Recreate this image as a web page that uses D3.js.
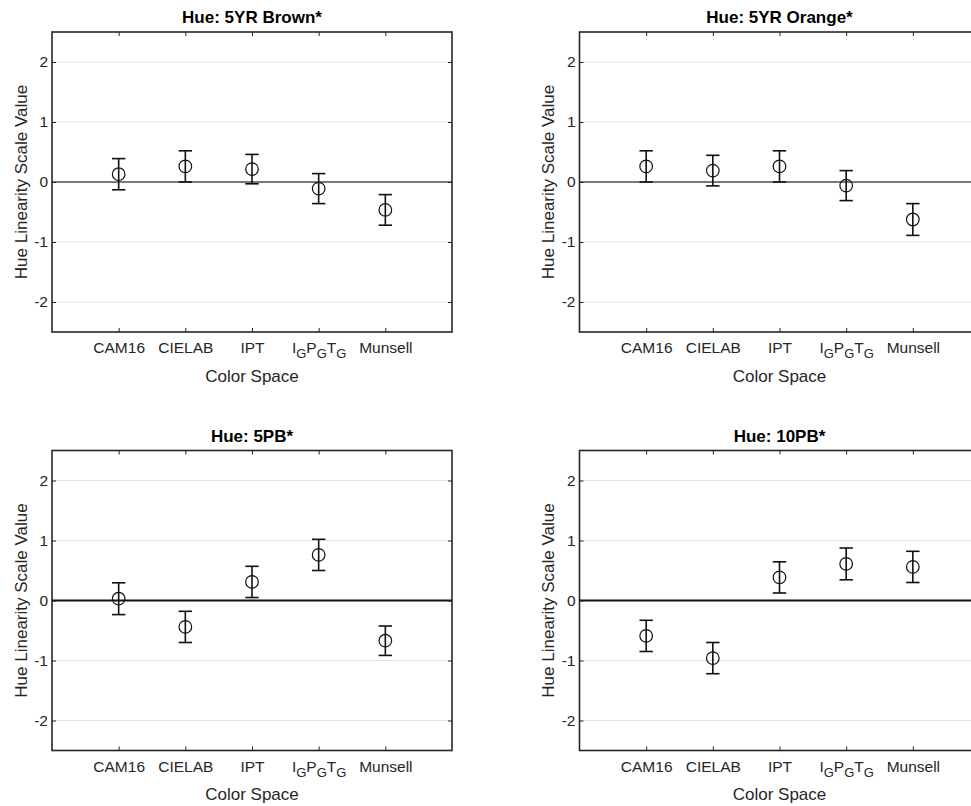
<!DOCTYPE html>
<html>
<head>
<meta charset="utf-8">
<script src="https://cdn.jsdelivr.net/npm/d3@7"></script>
<style>
  html, body { margin: 0; padding: 0; background: #fff; }
  svg { display: block; font-family: "Liberation Sans", Arial, Helvetica, sans-serif; }
</style>
</head>
<body>
<svg id="chart" width="971" height="806"></svg>
<script>
// Hue linearity scale values (mean ± confidence interval) per colour space
const categories = ["CAM16", "CIELAB", "IPT", "IGPGTG", "Munsell"];
const yTicks = [-2, -1, 0, 1, 2];
const hueTitles = ["Hue: 5YR Brown*", "Hue: 5YR Orange*", "Hue: 5PB*", "Hue: 10PB*"];

const brownMeans  = [0.13, 0.26, 0.215, -0.11, -0.465];
const brownErr    = [0.26, 0.26, 0.245, 0.25, 0.255];
const orangeMeans = [0.26, 0.19, 0.26, -0.06, -0.625];
const orangeErr   = [0.26, 0.255, 0.26, 0.25, 0.265];
const pb5Means    = [0.03, -0.44, 0.31, 0.76, -0.67];
const pb5Err      = [0.265, 0.26, 0.26, 0.26, 0.245];
const pb10Means   = [-0.59, -0.96, 0.385, 0.61, 0.56];
const pb10Err     = [0.26, 0.26, 0.26, 0.265, 0.26];

// Label pieces: [text, isSubscript]
const labelParts = {
  IGPGTG: [["I", false], ["G", true], ["P", false], ["G", true], ["T", false], ["G", true]]
};

const panels = [
  { title: hueTitles[0], means: brownMeans,  err: brownErr,  left: 52,    top: 32,    zero: "#7a7a7a" },
  { title: hueTitles[1], means: orangeMeans, err: orangeErr, left: 579.5, top: 32,    zero: "#7a7a7a" },
  { title: hueTitles[2], means: pb5Means,    err: pb5Err,    left: 52,    top: 450.5, zero: "#111" },
  { title: hueTitles[3], means: pb10Means,   err: pb10Err,   left: 579.5, top: 450.5, zero: "#111" }
];

const W = 400, H = 300;
const axisColor = "#262626";
const svg = d3.select("#chart");

const x = d3.scalePoint().domain(categories).range([0, W]).padding(1);
const y = d3.scaleLinear().domain([-2.5, 2.5]).range([H, 0]);

panels.forEach(p => {
  const g = svg.append("g").attr("transform", `translate(${p.left},${p.top})`);

  // horizontal grid
  g.append("g").selectAll("line").data(yTicks).join("line")
    .attr("x1", 0).attr("x2", W)
    .attr("y1", d => y(d)).attr("y2", d => y(d))
    .attr("stroke", "#e3e3e3").attr("stroke-width", 1);

  // reference line at zero
  g.append("line")
    .attr("x1", 0).attr("x2", W).attr("y1", y(0)).attr("y2", y(0))
    .attr("stroke", p.zero).attr("stroke-width", 2);

  // axes with inward ticks
  const styleAxis = sel => {
    sel.select(".domain").remove();
    sel.selectAll(".tick line").attr("stroke", axisColor).attr("stroke-width", 1);
    sel.selectAll(".tick text").attr("fill", axisColor).style("font-size", "15.5px");
  };

  const xAx = g.append("g").attr("transform", `translate(0,${H})`)
    .call(d3.axisBottom(x).tickSize(-4).tickPadding(10))
    .call(styleAxis);
  xAx.selectAll(".tick text").each(function(d) {
    const parts = labelParts[d];
    if (!parts) return;
    const t = d3.select(this).text("");
    parts.forEach(([s, sub], i) => {
      const prevSub = i > 0 && parts[i - 1][1];
      t.append("tspan")
        .attr("dy", sub ? "5" : (prevSub ? "-5" : null))
        .style("font-size", sub ? "13px" : "15.5px")
        .text(s);
    });
  });

  g.append("g").call(d3.axisTop(x).tickSize(-4).tickFormat(""))
    .call(styleAxis);
  g.append("g")
    .call(d3.axisLeft(y).tickValues(yTicks).tickSize(-4).tickPadding(4).tickFormat(d => String(d)))
    .call(styleAxis);
  g.append("g").attr("transform", `translate(${W},0)`)
    .call(d3.axisRight(y).tickValues(yTicks).tickSize(-4).tickFormat(""))
    .call(styleAxis);

  // frame
  g.append("rect").attr("x", 0).attr("y", 0).attr("width", W).attr("height", H)
    .attr("fill", "none").attr("stroke", axisColor).attr("stroke-width", 1.6);

  // error bars and markers
  const pts = categories.map((c, i) => ({ c, m: p.means[i], e: p.err[i] }));
  const cap = 6.7;
  const eb = g.append("g").attr("stroke", "#111").attr("stroke-width", 1.6).attr("fill", "none");
  eb.selectAll("line.v").data(pts).join("line").attr("class", "v")
    .attr("x1", d => x(d.c)).attr("x2", d => x(d.c))
    .attr("y1", d => y(d.m + d.e)).attr("y2", d => y(d.m - d.e));
  eb.selectAll("line.t").data(pts).join("line").attr("class", "t")
    .attr("x1", d => x(d.c) - cap).attr("x2", d => x(d.c) + cap)
    .attr("y1", d => y(d.m + d.e)).attr("y2", d => y(d.m + d.e));
  eb.selectAll("line.b").data(pts).join("line").attr("class", "b")
    .attr("x1", d => x(d.c) - cap).attr("x2", d => x(d.c) + cap)
    .attr("y1", d => y(d.m - d.e)).attr("y2", d => y(d.m - d.e));
  g.append("g").selectAll("circle").data(pts).join("circle")
    .attr("cx", d => x(d.c)).attr("cy", d => y(d.m)).attr("r", 6.3)
    .attr("fill", "none").attr("stroke", "#111").attr("stroke-width", 1.2);

  // title and axis labels
  g.append("text").attr("x", W / 2).attr("y", -9).attr("text-anchor", "middle")
    .style("font-size", "17px").style("font-weight", "bold").attr("fill", "#000")
    .text(p.title);
  g.append("text").attr("x", W / 2).attr("y", H + 49.5).attr("text-anchor", "middle")
    .style("font-size", "17px").attr("fill", axisColor).text("Color Space");
  g.append("text").attr("transform", `translate(-25.5,${H / 2}) rotate(-90)`)
    .attr("text-anchor", "middle").style("font-size", "17px").attr("fill", axisColor)
    .text("Hue Linearity Scale Value");
});
</script>
</body>
</html>
